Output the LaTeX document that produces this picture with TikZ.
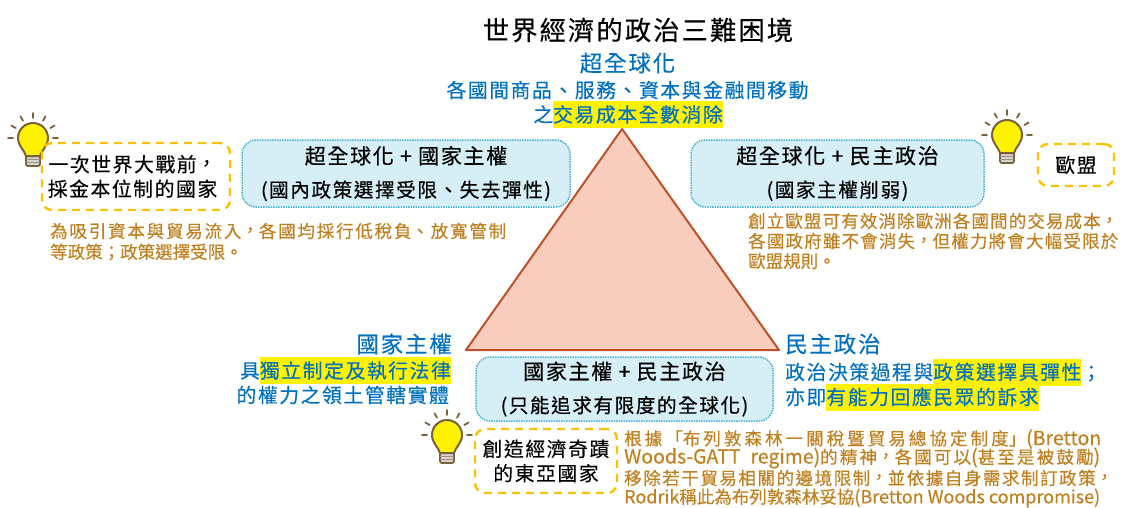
\documentclass[tikz,border=0pt]{standalone}
\usepackage{fontspec}
\usepackage{xcolor}
\setmainfont[Language=Chinese Traditional, RawFeature={embolden=0.35}]{Noto Sans CJK TC}
\newfontfamily\tcwide[LetterSpace=8, Language=Chinese Traditional, RawFeature={embolden=0.35}]{Noto Sans CJK TC}
\usetikzlibrary{positioning}
\definecolor{trilemmablue}{RGB}{0,112,192}
\definecolor{trilemmaorange}{RGB}{192,128,32}
\definecolor{boxfill}{RGB}{214,238,245}
\definecolor{boxdots}{RGB}{75,178,212}
\definecolor{tipdash}{RGB}{255,192,0}
\definecolor{bulbbrown}{RGB}{122,96,60}
\definecolor{trifill}{RGB}{248,205,190}
\definecolor{triline}{RGB}{192,80,40}
\newcommand{\fs}[1]{\fontsize{#1}{#1}\selectfont}
\newcommand{\hlt}[1]{{\setlength{\fboxsep}{0pt}\colorbox{yellow}{\rule[-6pt]{0pt}{27pt}#1}}}
\newcommand{\zc}{\raisebox{.07em}{，}}
\newcommand{\fitline}[2]{\parbox{#1}{\XeTeXlinebreaklocale "zh"\XeTeXlinebreakskip=0pt plus 8pt\parfillskip=0pt\relax #2}}
\tikzset{
	infobox/.style={draw=boxdots, fill=boxfill, densely dotted, line width=1.5pt, rounded corners=14pt, align=center, inner sep=0pt},
	tipbox/.style={draw=tipdash, line width=2.4pt, dash pattern=on 8pt off 6pt, rounded corners=10pt, align=center, inner sep=0pt},
	bluetext/.style={text=trilemmablue, inner sep=0pt, font=\tcwide\fs{19.8}},
	heading/.style={text=trilemmablue, inner sep=0pt, font=\tcwide\fs{22.5}},
	notetext/.style={text=trilemmaorange, anchor=west, inner sep=0pt, font=\fs{17.5}},
	bulb/.pic={
		\foreach \a in {0,30,60,90,120,150,180}
			\draw[bulbbrown, line width=1.8pt, line cap=round] (-\a:20) -- (-\a:25);
		\draw[bulbbrown, line width=1.8pt, fill=gray!35, rounded corners=2pt] (-7,17) rectangle (7,28);
		\draw[bulbbrown!70, line width=1pt] (-7,21) -- (7,21) (-7,24.5) -- (7,24.5);
		\draw[bulbbrown, line width=2pt, fill=yellow] (-7,18) .. controls (-8,13) and (-15,8) .. (-15,0) arc[start angle=180, end angle=360, radius=15] .. controls (15,8) and (8,13) .. (7,18) -- cycle;
	}
}
\begin{document}
\begin{tikzpicture}[x=1pt, y=-1pt]
	\useasboundingbox (0,0) rectangle (1123,507);
	% Title and apex
	\node[inner sep=0pt, font=\tcwide\fs{26.3}] (title) at (638,30) {世界經濟的政治三難困境};
	\node[heading] (hyper) at (627.5,63) {超全球化};
	\node[bluetext] (hyper1) at (627.5,90) {各國間商品、服務、資本與金融間移動};
	\node[bluetext] (hyper2) at (628,114.5) {之\hlt{交易成本全數消除}};

	% Triangle
	\draw[triline, line width=2pt, fill=trifill, line join=round] (622,129) -- (779,350) -- (466,350) -- cycle;

	% Blue boxes
	\node[infobox, minimum width=328pt, minimum height=67pt] (boxleft) at (406,173.5) {{\tcwide\fs{21}超全球化 + 國家主權}\\[14pt]{\tcwide\fs{19.6}(國內政策選擇受限、失去彈性)}};
	\node[infobox, minimum width=293pt, minimum height=67pt] (boxright) at (837.5,173.5) {{\tcwide\fs{21}超全球化 + 民主政治}\\[14pt]{\tcwide\fs{19.6}(國家主權削弱)}};
	\node[infobox, minimum width=297pt, minimum height=64pt] (boxbottom) at (624.5,389) {{\tcwide\fs{21}國家主權 + 民主政治}\\[14pt]{\tcwide\fs{19.6}(只能追求有限度的全球化)}};

	% Bulbs and dashed boxes
	\pic at (33,138) {bulb};
	\pic at (1007,135) {bulb};
	\pic at (447,435) {bulb};
	\node[tipbox, minimum width=188pt, minimum height=67pt] (tipleft) at (136,176.5) {\hspace*{-7pt}\tcwide\fs{19.8}一次世界大戰前\zc\\[5pt]\hspace*{-7pt}\tcwide\fs{19.8}採金本位制的國家};
	\node[tipbox, minimum width=76pt, minimum height=42pt] (tipright) at (1076,165) {\tcwide\fs{19.8}歐盟};
	\node[tipbox, minimum width=142pt, minimum height=64pt] (tipbottom) at (546,461) {\tcwide\fs{19.8}創造經濟奇蹟\\[5pt]\tcwide\fs{19.8}的東亞國家};

	% Corner texts
	\node[heading, anchor=east] (sovereign) at (452,344) {國家主權};
	\node[bluetext, anchor=east] (sovereign1) at (451,370.5) {具\hlt{獨立制定及執行法律}};
	\node[bluetext, anchor=east] (sovereign2) at (449,395) {的權力之領土管轄實體};
	\node[heading, anchor=west] (democracy) at (785,344) {民主政治};
	\node[bluetext, anchor=west] (democracy1) at (785,372) {政治決策過程與\hlt{政策選擇具彈性}；};
	\node[bluetext, anchor=west] (democracy2) at (785,397) {亦即\hlt{有能力回應民眾的訴求}};

	% Orange notes
	\node[notetext] (noteleft1) at (50,231) {\fitline{456pt}{為吸引資本與貿易流入\zc 各國均採行低稅負、放寬管制}};
	\node[notetext] (noteleft2) at (50,252) {等政策；政策選擇受限。};
	\node[notetext] (noteright1) at (748,221) {\fitline{370pt}{創立歐盟可有效消除歐洲各國間的交易成本\zc}};
	\node[notetext] (noteright2) at (748,241) {\fitline{370pt}{各國政府雖不會消失\zc 但權力將會大幅受限於}};
	\node[notetext] (noteright3) at (748,261) {歐盟規則。};
	\node[notetext] (notebottom1) at (624,439) {\fitline{477pt}{根據「布列敦森林一關稅暨貿易總協定制度」{\fs{19.5}(Bretton}}};
	\node[notetext] (notebottom2) at (624,458) {\fitline{476pt}{{\fs{19.5}Woods-GATT\ \ regime)}的精神\zc 各國可以{\fs{19.5}(}甚至是被鼓勵{\fs{19.5})}}};
	\node[notetext] (notebottom3) at (624,478) {\fitline{489pt}{移除若干貿易相關的邊境限制\zc 並依據自身需求制訂政策\zc}};
	\node[notetext] (notebottom4) at (624,498) {\fitline{476pt}{{\fs{18}Rodrik}稱此為布列敦森林妥協{\fs{18}(Bretton Woods compromise)}}};
\end{tikzpicture}
\end{document}
